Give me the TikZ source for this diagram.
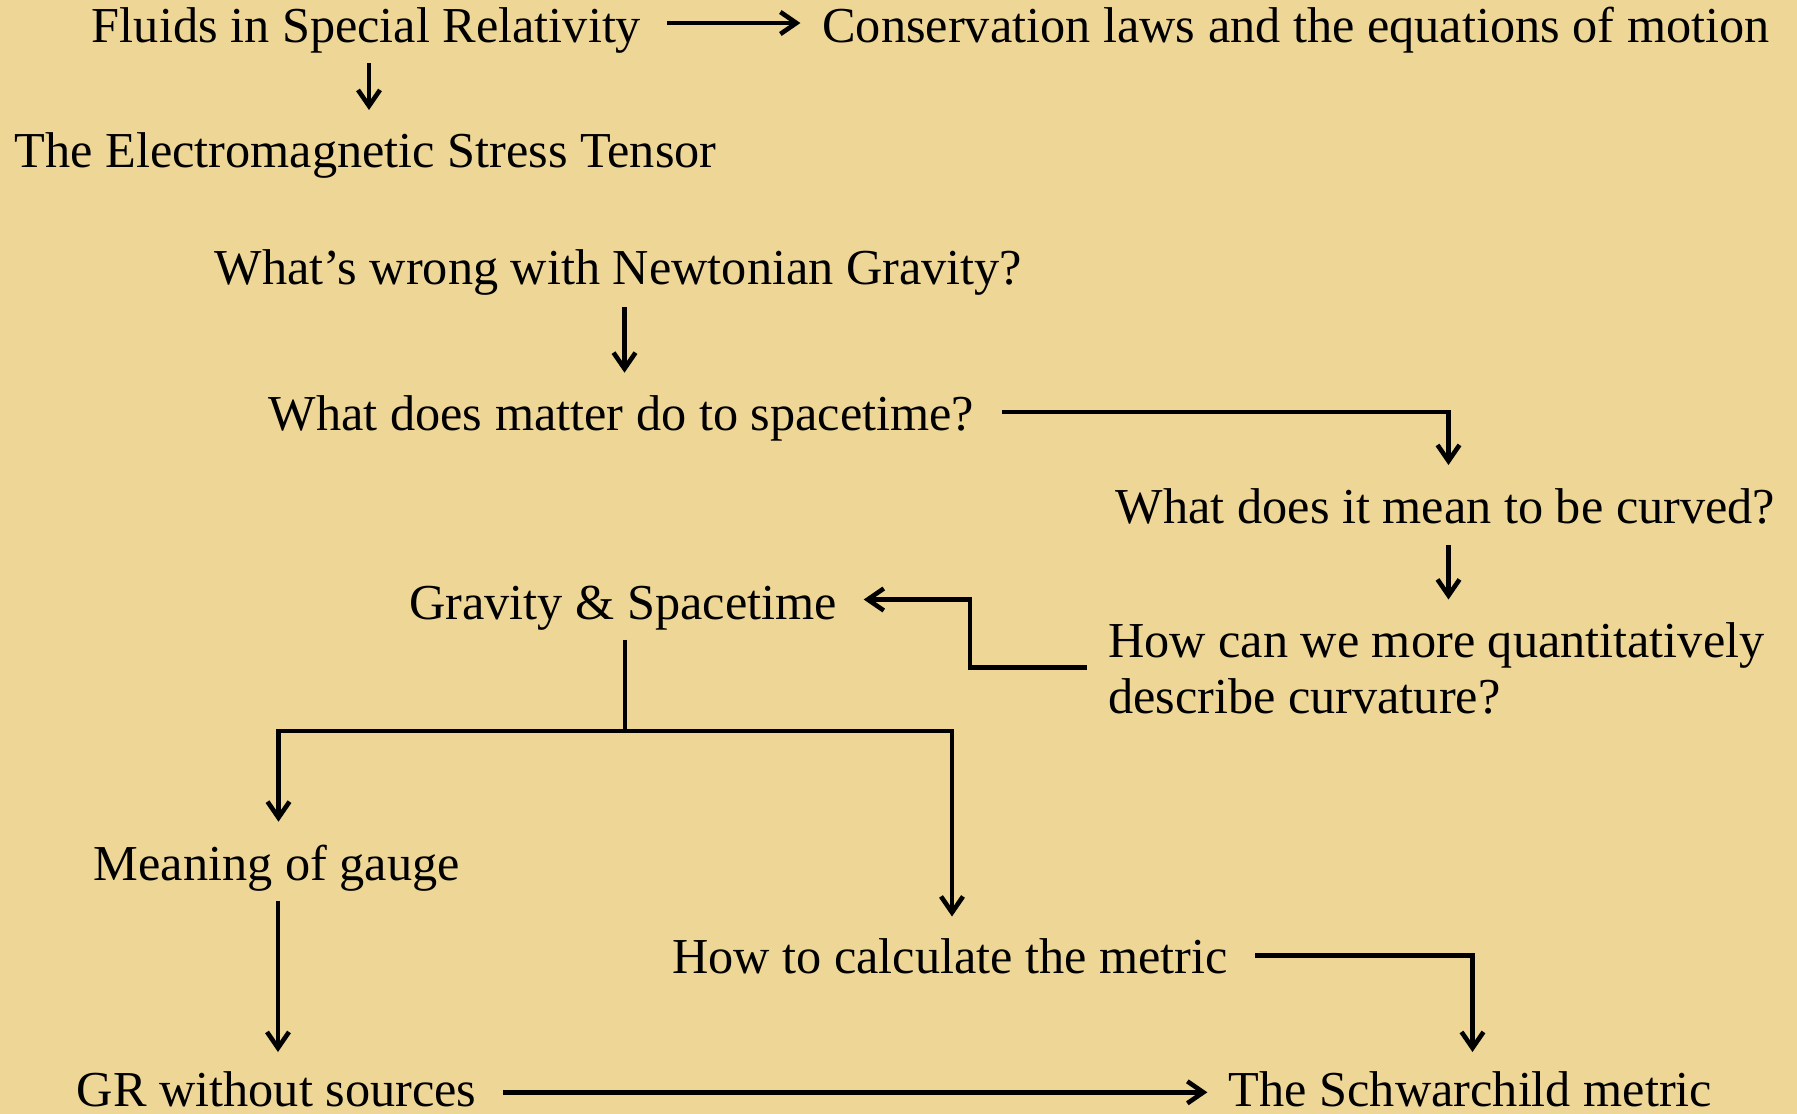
\documentclass[tikz,border=0pt]{standalone}
\usepackage{fontspec}
\setmainfont{Liberation Serif}
\usetikzlibrary{arrows.meta}
\definecolor{papyrus}{RGB}{238,214,150}
\begin{document}
\begin{tikzpicture}[x=1pt,y=-1pt,
  txt/.style={inner sep=0pt, outer sep=0pt, font=\fontsize{50.3}{56}\selectfont, text=black},
  link/.style={line width=4.6pt, draw=black},
  arr/.style={link, -{Straight Barb[length=16pt,width=22pt]}}]
\fill[papyrus] (0,0) rectangle (1797,1114);
\useasboundingbox (0,0) rectangle (1797,1114);

\node[txt, anchor=base] (fluids)  at (366.5,42)  {Fluids in Special Relativity};
\node[txt, anchor=base] (conserv) at (1296,42)   {Conservation laws and the equations of motion};
\node[txt, anchor=base] (em)      at (365.5,167) {The Electromagnetic Stress Tensor};
\node[txt, anchor=base] (newton)  at (618.5,284) {What’s wrong with Newtonian Gravity?};
\node[txt, anchor=base] (matter)  at (621.5,430) {What does matter do to spacetime?};
\node[txt, anchor=base] (curved)  at (1445.5,523) {What does it mean to be curved?};
\node[txt, anchor=base west] (quant) at (1108,657)
  {\begin{tabular}[t]{@{}l@{}}How can we more quantitatively\\describe curvature?\end{tabular}};
\node[txt, anchor=base] (grav)    at (623,619)   {Gravity \& Spacetime};
\node[txt, anchor=base] (gauge)   at (276.7,880) {Meaning of gauge};
\node[txt, anchor=base] (metric)  at (950,973)   {How to calculate the metric};
\node[txt, anchor=base] (gr)      at (276.7,1106) {GR without sources};
\node[txt, anchor=base] (schw)    at (1470.5,1106) {The Schwarchild metric};

% connectors
\draw[arr] ([xshift=26pt,yshift=19pt]fluids.base east) -- ([xshift=-22pt,yshift=19pt]conserv.base west);
\draw[arr] ([xshift=2.5pt,yshift=-21pt]fluids.base) -- ([xshift=2.5pt,yshift=57pt]fluids.base |- em.base);
\draw[arr] ([xshift=6pt,yshift=-23pt]newton.base) -- ([xshift=6pt,yshift=57.3pt]newton.base |- matter.base);
\draw[arr] ([xshift=28pt,yshift=18pt]matter.base east) -| ([xshift=3pt,yshift=58pt]curved.base);
\draw[arr] ([xshift=3pt,yshift=-22pt]curved.base) -- ([xshift=3pt,yshift=57.5pt]curved.base |- quant.base);
\draw[arr] ([xshift=-21.5pt,yshift=-10.5pt]quant.base west) -- ++(-116.5,0)
   |- ([xshift=27pt,yshift=19.5pt]grav.base east);
\coordinate (fork) at ([xshift=2pt,yshift=-112pt]grav.base);
\draw[link] ([xshift=2pt,yshift=-20.5pt]grav.base) -- (fork);
\draw[arr] (fork) -| ([xshift=1.8pt,yshift=58.3pt]gauge.base);
\draw[arr] (fork) -| ([xshift=2pt,yshift=56.5pt]metric.base);
\draw[arr] ([xshift=1.3pt,yshift=-21pt]gauge.base) -- ([xshift=1.3pt,yshift=54pt]gauge.base |- gr.base);
\draw[arr] ([xshift=27.5pt,yshift=17.5pt]metric.base east) -| ([xshift=2pt,yshift=54pt]schw.base);
\draw[arr] ([xshift=26.3pt,yshift=13.7pt]gr.base east) -- ([xshift=-21.5pt,yshift=13.7pt]schw.base west);
\end{tikzpicture}
\end{document}
